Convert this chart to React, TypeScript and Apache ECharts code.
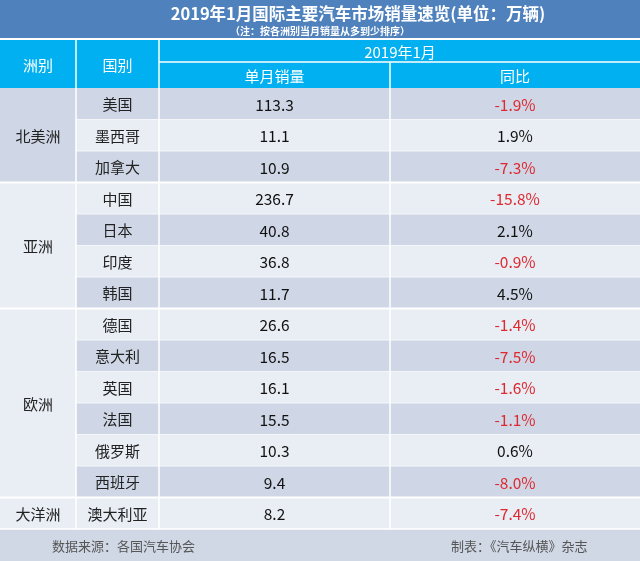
import React, { useEffect, useRef } from "react";
import * as echarts from "echarts";

const titleText = "2019年1月国际主要汽车市场销量速览(单位：万辆)";
const subtitleText = "（注：按各洲别当月销量从多到少排序）";
const headerCols = ["洲别", "国别"];
const periodLabel = "2019年1月";
const metricCols = ["单月销量", "同比"];
const continents = ["北美洲", "亚洲", "欧洲", "大洋洲"];
const continentSizes = [3, 4, 6, 1];
const countries = ["美国", "墨西哥", "加拿大", "中国", "日本", "印度", "韩国", "德国", "意大利", "英国", "法国", "俄罗斯", "西班牙", "澳大利亚"];
const sales = [113.3, 11.1, 10.9, 236.7, 40.8, 36.8, 11.7, 26.6, 16.5, 16.1, 15.5, 10.3, 9.4, 8.2];
const yoy = [-1.9, 1.9, -7.3, -15.8, 2.1, -0.9, 4.5, -1.4, -7.5, -1.6, -1.1, 0.6, -8.0, -7.4];
const sourceText = "数据来源：各国汽车协会";
const makerText = "制表：《汽车纵横》杂志";

const CJK = "'Noto Sans CJK SC', 'Noto Sans', sans-serif";

export default function App() {
  const ref = useRef<HTMLDivElement>(null);
  useEffect(() => {
    if (!ref.current) return;
    const chart = echarts.init(ref.current, null, { renderer: "svg" });
    const W = 640;
    const top = 88;
    const rowH = 31.5;
    const dark = "#CFD7E6";
    const light = "#E9EDF4";
    const els: any[] = [];
    els.push({ type: "rect", shape: { x: 0, y: 0, width: W, height: 561 }, style: { fill: "#ffffff" } });
    els.push({ type: "rect", shape: { x: 0, y: 0, width: W, height: 38 }, style: { fill: "#4F81BD" } });
    els.push({ type: "text", x: 358, y: 12.5, style: { text: titleText, fill: "#fff", font: `bold 16.5px ${CJK}`, align: "center", verticalAlign: "middle" } });
    els.push({ type: "text", x: 320, y: 30.5, style: { text: subtitleText, fill: "#fff", font: `bold 10px ${CJK}`, align: "center", verticalAlign: "middle" } });
    els.push({ type: "rect", shape: { x: 0, y: 40, width: W, height: 48 }, style: { fill: "#00B0F0" } });
    els.push({ type: "text", x: 38, y: 64, style: { text: headerCols[0], fill: "#fff", font: `15px ${CJK}`, align: "center", verticalAlign: "middle" } });
    els.push({ type: "text", x: 117.5, y: 64, style: { text: headerCols[1], fill: "#fff", font: `15px ${CJK}`, align: "center", verticalAlign: "middle" } });
    els.push({ type: "text", x: 400, y: 51, style: { text: periodLabel, fill: "#fff", font: `15px ${CJK}`, align: "center", verticalAlign: "middle" } });
    els.push({ type: "text", x: 274.5, y: 75.5, style: { text: metricCols[0], fill: "#fff", font: `15px ${CJK}`, align: "center", verticalAlign: "middle" } });
    els.push({ type: "text", x: 515, y: 75.5, style: { text: metricCols[1], fill: "#fff", font: `15px ${CJK}`, align: "center", verticalAlign: "middle" } });
    els.push({ type: "line", shape: { x1: 159, y1: 62, x2: W, y2: 62 }, style: { stroke: "#fff", lineWidth: 1.5 } });
    els.push({ type: "line", shape: { x1: 76, y1: 40, x2: 76, y2: 88 }, style: { stroke: "#fff", lineWidth: 1.5 } });
    els.push({ type: "line", shape: { x1: 159, y1: 40, x2: 159, y2: 88 }, style: { stroke: "#fff", lineWidth: 1.5 } });
    els.push({ type: "line", shape: { x1: 390, y1: 62, x2: 390, y2: 88 }, style: { stroke: "#fff", lineWidth: 1.5 } });

    countries.forEach((c, i) => {
      const y = top + i * rowH;
      els.push({ type: "rect", shape: { x: 76, y, width: W - 76, height: rowH }, style: { fill: i % 2 === 0 ? dark : light } });
      els.push({ type: "text", x: 117.5, y: y + rowH / 2, style: { text: c, fill: "#222", font: `15px ${CJK}`, align: "center", verticalAlign: "middle" } });
      els.push({ type: "text", x: 274.5, y: y + rowH / 2, style: { text: sales[i].toFixed(1), fill: "#111", font: `15.5px ${CJK}`, align: "center", verticalAlign: "middle" } });
      const v = yoy[i];
      els.push({ type: "text", x: 515, y: y + rowH / 2, style: { text: v.toFixed(1) + "%", fill: v < 0 ? "#DD2A30" : "#111", font: `15.5px ${CJK}`, align: "center", verticalAlign: "middle" } });
      if (i > 0) els.push({ type: "line", shape: { x1: 76, y1: y, x2: W, y2: y }, style: { stroke: "#F4F6FA", lineWidth: 1 } });
    });

    let start = 0;
    continents.forEach((name, g) => {
      const y = top + start * rowH;
      const h = continentSizes[g] * rowH;
      els.push({ type: "rect", shape: { x: 0, y, width: 76, height: h }, style: { fill: g === 0 ? dark : light } });
      els.push({ type: "text", x: 38, y: y + h / 2, style: { text: name, fill: "#222", font: `15px ${CJK}`, align: "center", verticalAlign: "middle" } });
      if (g > 0) els.push({ type: "line", shape: { x1: 0, y1: y, x2: W, y2: y }, style: { stroke: "#ffffff", lineWidth: 2 } });
      start += continentSizes[g];
    });
    const bottom = top + countries.length * rowH;
    [76, 159, 390].forEach((x) => {
      els.push({ type: "line", shape: { x1: x, y1: top, x2: x, y2: bottom }, style: { stroke: "#ffffff", lineWidth: 1.5 } });
    });
    els.push({ type: "rect", shape: { x: 0, y: bottom, width: W, height: 561 - bottom }, style: { fill: "#D0D8E6" } });
    els.push({ type: "line", shape: { x1: 0, y1: bottom, x2: W, y2: bottom }, style: { stroke: "#ffffff", lineWidth: 1.5 } });
    els.push({ type: "text", x: 52, y: 545, style: { text: sourceText, fill: "#555", font: `13px ${CJK}`, align: "left", verticalAlign: "middle" } });
    els.push({ type: "text", x: 451, y: 545, style: { text: makerText, fill: "#555", font: `13px ${CJK}`, align: "left", verticalAlign: "middle" } });

    chart.setOption({ animation: false, graphic: { elements: els } });
    return () => chart.dispose();
  }, []);
  return <div ref={ref} style={{ position: "fixed", left: 0, top: 0, width: 640, height: 561 }} />;
}
